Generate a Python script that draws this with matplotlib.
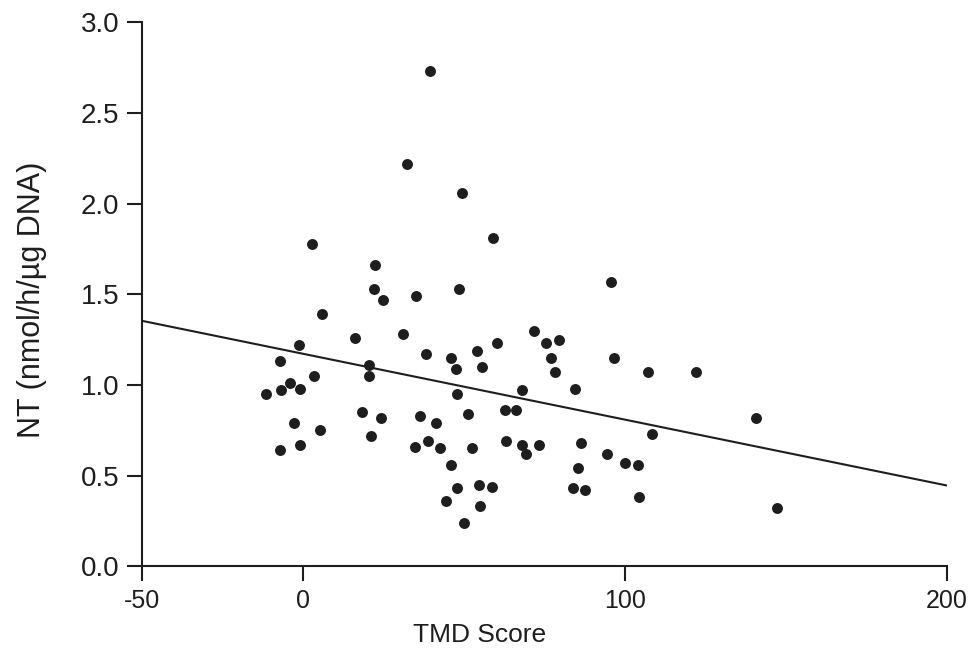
"""NT activity vs TMD score -- scatter with fitted regression line.

One point per subject: x = TMD score, y = NT (nmol/h/ug DNA). Values read off the
published figure. Writes out.png (979x657).
"""

from __future__ import annotations

import matplotlib
matplotlib.use("Agg")
import matplotlib.pyplot as plt
from matplotlib.ticker import FormatStrFormatter

plt.rcParams["font.family"] = ["Liberation Sans", "DejaVu Sans"]
plt.rcParams["axes.unicode_minus"] = False      # original prints "-50" with a hyphen

# subject points (TMD score, NT)
tmd = [2.9, 22.5, 22.2, 24.9, 35.2, 6.0, 16.2, 31.0, 38.3, -1.2,
       -7.0, 3.4, 20.6, 20.5, -4.1, -6.9, -0.8, -11.4, 18.3, 24.2,
       36.4, -2.7, 5.3, 21.1, 34.9, 38.9, -0.9, -7.1, 59.1, 48.6,
       95.6, 71.8, 75.4, 79.5, 60.4, 54.0, 46.1, 55.6, 47.5, 77.0,
       78.2, 84.6, 96.8, 107.1, 122.0, 47.8, 68.1, 51.2, 62.7, 66.1,
       41.2, 42.5, 52.5, 63.2, 68.2, 69.2, 73.3, 86.3, 45.9, 85.5,
       47.9, 54.6, 58.9, 83.9, 87.5, 44.5, 55.0, 50.1, 140.8, 108.3,
       94.6, 100.0, 104.2, 104.3, 147.2, 39.4, 32.2, 49.3]
nt = [1.78, 1.66, 1.53, 1.47, 1.49, 1.39, 1.26, 1.28, 1.17, 1.22,
      1.13, 1.05, 1.11, 1.05, 1.01, 0.97, 0.98, 0.95, 0.85, 0.82,
      0.83, 0.79, 0.75, 0.72, 0.66, 0.69, 0.67, 0.64, 1.81, 1.53,
      1.57, 1.30, 1.23, 1.25, 1.23, 1.19, 1.15, 1.10, 1.09, 1.15,
      1.07, 0.98, 1.15, 1.07, 1.07, 0.95, 0.97, 0.84, 0.86, 0.86,
      0.79, 0.65, 0.65, 0.69, 0.67, 0.62, 0.67, 0.68, 0.56, 0.54,
      0.43, 0.45, 0.44, 0.43, 0.42, 0.36, 0.33, 0.24, 0.82, 0.73,
      0.62, 0.57, 0.56, 0.38, 0.32, 2.73, 2.22, 2.06]

# fitted line end points
fit_x = [-50, 200]
fit_y = [1.354, 0.446]

x_ticks = [-50, 0, 100, 200]
y_ticks = [0.0, 0.5, 1.0, 1.5, 2.0, 2.5, 3.0]

INK = "#1e1e1e"


def plot(out: str = "out.png") -> str:
    fig = plt.figure(figsize=(9.79, 6.57), dpi=100)
    ax = fig.add_axes([0.145, 0.138, 0.822, 0.828])

    ax.scatter(tmd, nt, s=62, color=INK, linewidths=0, zorder=3)
    ax.plot(fit_x, fit_y, color=INK, lw=1.5, zorder=2)

    ax.set_xlim(-50, 200)
    ax.set_ylim(0, 3.0)
    ax.set_xticks(x_ticks)
    ax.set_yticks(y_ticks)
    ax.yaxis.set_major_formatter(FormatStrFormatter("%.1f"))

    for side in ("top", "right"):
        ax.spines[side].set_visible(False)
    for side in ("left", "bottom"):
        ax.spines[side].set_linewidth(1.5)
        ax.spines[side].set_color(INK)
    ax.tick_params(direction="out", length=10.5, width=1.5, color=INK,
                   labelcolor=INK, pad=6)
    ax.tick_params(axis="x", labelsize=18)
    ax.tick_params(axis="y", labelsize=20)

    ax.set_xlabel("TMD Score", fontsize=19, color=INK)
    ax.set_ylabel("NT (nmol/h/\u00b5g DNA)", fontsize=22, color=INK)
    ax.xaxis.set_label_coords(0.42, -0.105)
    ax.yaxis.set_label_coords(-0.118, 0.49)

    fig.savefig(out, dpi=100, facecolor="white")
    plt.close(fig)
    return out


def main() -> int:
    print(f"figure -> {plot()}")
    return 0


if __name__ == "__main__":
    raise SystemExit(main())
